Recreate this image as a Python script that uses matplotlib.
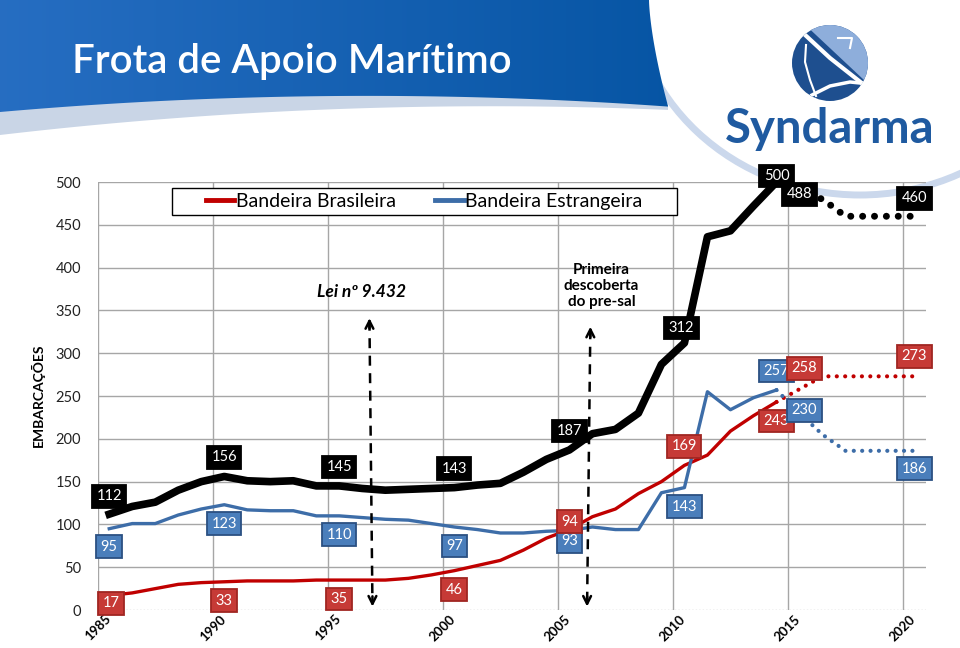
import numpy as np
import matplotlib
matplotlib.use("Agg")
import matplotlib.pyplot as plt
import matplotlib.transforms as mtransforms
from matplotlib.patches import Polygon, Ellipse, Circle, Rectangle
from matplotlib.lines import Line2D

plt.rcParams['font.family'] = ['Lato', 'DejaVu Sans']

# ---------------- data ----------------
years = list(range(1985, 2015))
brasileira = [17, 20, 25, 30, 32, 33, 34, 34, 34, 35, 35, 35, 35, 37, 41,
              46, 52, 58, 70, 84, 94, 109, 118, 136, 150, 169, 181, 209, 227, 243]
estrangeira = [95, 101, 101, 111, 118, 123, 117, 116, 116, 110, 110, 108, 106, 105, 101,
               97, 94, 90, 90, 92, 93, 97, 94, 94, 137, 143, 255, 234, 248, 257]
total = [112, 121, 126, 140, 150, 156, 151, 150, 151, 145, 145, 142, 140, 141, 142,
         143, 146, 148, 161, 176, 187, 206, 211, 230, 287, 312, 436, 443, 472, 500]

proj_years = [2014, 2015, 2016, 2017, 2018, 2019, 2020]
proj_brasileira = [243, 258, 273, 273, 273, 273, 273]
proj_estrangeira = [257, 230, 205, 186, 186, 186, 186]
proj_total = [500, 488, 480, 460, 460, 460, 460]

xtick_years = [1985, 1990, 1995, 2000, 2005, 2010, 2015, 2020]
yticks = [0, 50, 100, 150, 200, 250, 300, 350, 400, 450, 500]
legend_labels = ['Bandeira Brasileira', 'Bandeira Estrangeira']
title = 'Frota de Apoio Marítimo'
ylabel = 'EMBARCAÇÕES'

# ---------------- colours ----------------
RED = '#C00000'
BLUE = '#3D6DA8'
RED_BOX = '#C63A36'
RED_EDGE = '#A02622'
BLUE_BOX = '#4A7EBB'
BLUE_EDGE = '#2B5082'

fig = plt.figure(figsize=(9.6, 6.48), dpi=100)
fig.patch.set_facecolor('white')

# ---------------- background (banner + logo) ----------------
bg = fig.add_axes([0, 0, 1, 1], zorder=0)
bg.set_xlim(0, 960)
bg.set_ylim(648, 0)
bg.axis('off')

ecx, ecy, ea, eb = 860.0, -20.0, 230.0, 215.0


def y_bottom(x):
    return 112 + (-0.08755) * x + 1.189e-4 * x ** 2


def banner_right(y):
    return 649 + 19 * (y / 106.0) ** 1.5


ring = Ellipse((ecx, ecy), 2 * ea, 2 * eb, fill=False, edgecolor='#CBD8EC', lw=5, zorder=1)
bg.add_patch(ring)

ys = np.linspace(0, 106, 40)
right_pts = [(banner_right(y), y) for y in ys]
xs = np.linspace(banner_right(106), 0, 80)
bottom_pts = [(x, y_bottom(x)) for x in xs]
banner_poly = Polygon([(0, 0)] + right_pts + bottom_pts, closed=True, facecolor='none',
                      edgecolor='none', transform=bg.transData)
bg.add_patch(banner_poly)

# shadow band under the banner
xs2 = np.linspace(0, banner_right(106), 80)
top_band = [(x, y_bottom(x) - 1) for x in xs2]
bot_band = [(x, y_bottom(x) + 3 + 20 * (1 - x / 680.0)) for x in xs2[::-1]]
bg.add_patch(Polygon(top_band + bot_band, closed=True, facecolor='#C9D5E6',
                     edgecolor='none', zorder=1.5))

grad = np.zeros((2, 256, 3))
c1 = np.array([0.15, 0.43, 0.76])
c2 = np.array([0.02, 0.33, 0.64])
t = np.linspace(0, 1, 256)
row = c1[None, :] * (1 - t[:, None]) + c2[None, :] * t[:, None]
grad[:] = row
im = bg.imshow(grad, extent=[0, 700, 140, 0], aspect='auto', zorder=2, interpolation='bilinear')
im.set_clip_path(banner_poly)

bg.text(72, 61, title, color='white', fontsize=29, fontweight='semibold',
        ha='left', va='center', zorder=3)

# logo emblem
lcx, lcy, lr = 830, 63, 38
emb = Circle((lcx, lcy), lr, facecolor='#1E4F8F', edgecolor='none', zorder=3)
bg.add_patch(emb)
light = Polygon([(800, 20), (880, 20), (880, 95)], closed=True, facecolor='#8EAEDB',
                edgecolor='none', zorder=3.1)
bg.add_patch(light)
light.set_clip_path(emb)
l1, = bg.plot([803, 830, 868], [33, 58, 88], color='white', lw=3, zorder=3.2,
              solid_capstyle='butt')
l1.set_clip_path(emb)
l2, = bg.plot([806, 805, 810, 816], [45, 62, 80, 96], color='white', lw=1.5, zorder=3.2)
l2.set_clip_path(emb)
l3, = bg.plot([812, 830, 850, 870], [95, 86, 82, 84], color='white', lw=2.5, zorder=3.2)
l3.set_clip_path(emb)
bg.plot([838, 852, 850], [38, 38, 48], color='white', lw=1.5, zorder=3.2)

bg.text(830, 129, 'Syndarma', color='#1F5AA0', fontsize=34, fontweight='bold',
        ha='center', va='center', zorder=3)

# ---------------- chart ----------------
ax = fig.add_axes([0.1018, 0.0586, 0.8628, 0.6605], zorder=2)
ax.patch.set_alpha(0)
ax.set_xlim(1985, 2021)
ax.set_ylim(0, 500)
ax.set_xticks(xtick_years)
ax.set_yticks(yticks)
ax.set_xticklabels([str(y) for y in xtick_years], rotation=45, fontweight='bold',
                   fontsize=9.5, ha='center', va='top')
shift = mtransforms.ScaledTranslation(3 / 100.0, 0, fig.dpi_scale_trans)
for lab in ax.get_xticklabels():
    lab.set_transform(lab.get_transform() + shift)
ax.set_yticklabels([str(v) for v in yticks], fontsize=10.5, color='#222222')
ax.tick_params(length=0)
ax.tick_params(axis='y', pad=12)
ax.tick_params(axis='x', pad=2)
ax.grid(True, color='#A6A6A6', lw=1, zorder=0)
ax.set_axisbelow(True)
ax.yaxis.get_gridlines()[0].set_linestyle((0, (1, 1.5)))
ax.yaxis.get_gridlines()[0].set_color('#BBBBBB')
for s in ax.spines.values():
    s.set_visible(False)
ax.set_ylabel(ylabel, fontweight='bold', fontsize=10)
ax.yaxis.set_label_coords(-0.0636, 0.502)

xa = np.array(years) + 0.5
xp = np.array(proj_years) + 0.5

ax.plot(xa, brasileira, color=RED, lw=2.4, zorder=3)
ax.plot(xa, estrangeira, color=BLUE, lw=2.4, zorder=3)
ax.plot(xa, total, color='black', lw=5.5, zorder=3)

ax.plot(xp, proj_brasileira, color=RED, lw=3, linestyle=(0, (0.01, 2.0)),
        dash_capstyle='round', zorder=3)
ax.plot(xp, proj_estrangeira, color=BLUE, lw=3, linestyle=(0, (0.01, 2.0)),
        dash_capstyle='round', zorder=3)
ax.plot(xp, proj_total, color='black', lw=5, linestyle=(0, (0.01, 1.7)),
        dash_capstyle='round', zorder=3)

# data labels: (series, year, dx px, dy px)
label_specs = [
    ('t', 1985, 0, 18), ('t', 1990, 0, 19), ('t', 1995, 0, 19), ('t', 2000, 0, 19),
    ('t', 2005, 0, 19), ('t', 2010, -3, 15), ('t', 2014, 0, 6),
    ('b', 1985, 0, -18), ('b', 1990, 0, -19), ('b', 1995, 0, -19), ('b', 2000, 0, -19),
    ('b', 2005, 0, -11), ('b', 2010, 0, -19), ('b', 2014, 0, 19),
    ('r', 1985, 2, -8), ('r', 1990, 0, -19), ('r', 1995, 0, -19), ('r', 2000, 0, -19),
    ('r', 2005, 0, 8), ('r', 2010, 0, 19), ('r', 2014, 0, -19),
]
proj_label_specs = [
    ('t', 2015, 0, -2), ('t', 2020, 0, 18),
    ('b', 2015, 5, 3), ('b', 2020, 0, -18),
    ('r', 2015, 5, 21), ('r', 2020, 0, 20),
]
series = {'t': (total, 'black', 'black'), 'b': (estrangeira, BLUE_BOX, BLUE_EDGE),
          'r': (brasileira, RED_BOX, RED_EDGE)}
pseries = {'t': (proj_total, 'black', 'black'), 'b': (proj_estrangeira, BLUE_BOX, BLUE_EDGE),
           'r': (proj_brasileira, RED_BOX, RED_EDGE)}


def put_label(x, y, fc, ec, dx, dy):
    ax.annotate(str(y), xy=(x, y), xytext=(dx * 0.72, dy * 0.72), textcoords='offset points',
                ha='center', va='center', color='white', fontsize=10.5, zorder=6,
                bbox=dict(boxstyle='square,pad=0.3', fc=fc, ec=ec, lw=1.3))


for key, yr, dx, dy in label_specs:
    vals, fc, ec = series[key]
    i = years.index(yr)
    put_label(xa[i], vals[i], fc, ec, dx, dy)
for key, yr, dx, dy in proj_label_specs:
    vals, fc, ec = pseries[key]
    i = proj_years.index(yr)
    put_label(xp[i], vals[i], fc, ec, dx, dy)

# annotations
ax.text(1996.48, 372, 'Lei nº 9.432', fontweight='bold', style='italic', fontsize=12.5,
        ha='center', va='center', zorder=6)
ax.text(2006.9, 378.5, 'Primeira\ndescoberta\ndo pre-sal', fontweight='bold', fontsize=11,
        ha='center', va='center', linespacing=1.15, zorder=6)


def dashed_arrow(x_top, y_top, x_bot, y_bot):
    ax.plot([x_top, x_bot], [y_top - 3, y_bot + 3], color='black', lw=1.8,
            linestyle=(0, (4, 3)), zorder=4)
    ap = dict(arrowstyle='->', color='black', lw=1.8, mutation_scale=14, shrinkA=0, shrinkB=0)
    ax.annotate('', xy=(x_top, y_top), xytext=(x_top, y_top - 12), arrowprops=ap, zorder=4)
    ax.annotate('', xy=(x_bot, y_bot), xytext=(x_bot, y_bot + 12), arrowprops=ap, zorder=4)


dashed_arrow(1996.81, 341, 1996.94, 4)
dashed_arrow(2006.41, 331, 2006.27, 4)

# legend
ax.add_patch(Rectangle((0.0897, 0.923), 0.6097, 0.063, transform=ax.transAxes,
                       facecolor='white', edgecolor='black', lw=1, zorder=5))
handles = [Line2D([], [], color=RED, lw=3.5), Line2D([], [], color=BLUE, lw=3.5)]
leg = ax.legend(handles, legend_labels, loc='center', bbox_to_anchor=(0.3945, 0.9544),
                ncol=2, frameon=False, fontsize=14, handlelength=1.45, handletextpad=0.1,
                columnspacing=2.0)
leg.set_zorder(7)

fig.savefig('out.png', dpi=100)
